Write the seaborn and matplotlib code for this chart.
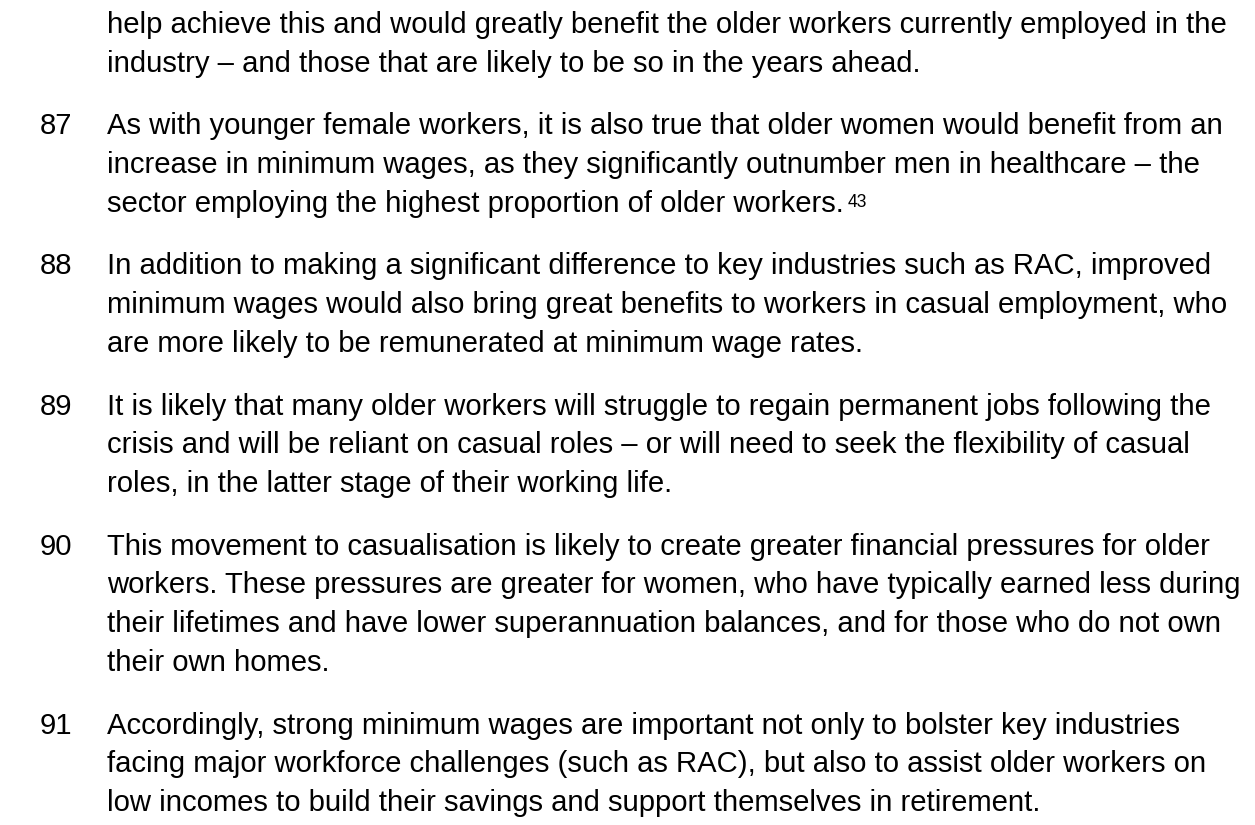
import matplotlib
matplotlib.use("Agg")
import matplotlib.pyplot as plt
import seaborn as sns

sns.set_theme(style="white")
plt.rcParams["font.family"] = ["Liberation Sans", "DejaVu Sans"]

# ---- content ----
para_numbers = ["", "87", "88", "89", "90", "91"]
para_lines = [
    ["help achieve this and would greatly benefit the older workers currently employed in the",
     "industry \u2013 and those that are likely to be so in the years ahead."],
    ["As with younger female workers, it is also true that older women would benefit from an",
     "increase in minimum wages, as they significantly outnumber men in healthcare \u2013 the",
     "sector employing the highest proportion of older workers."],
    ["In addition to making a significant difference to key industries such as RAC, improved",
     "minimum wages would also bring great benefits to workers in casual employment, who",
     "are more likely to be remunerated at minimum wage rates."],
    ["It is likely that many older workers will struggle to regain permanent jobs following the",
     "crisis and will be reliant on casual roles \u2013 or will need to seek the flexibility of casual",
     "roles, in the latter stage of their working life."],
    ["This movement to casualisation is likely to create greater financial pressures for older",
     "workers. These pressures are greater for women, who have typically earned less during",
     "their lifetimes and have lower superannuation balances, and for those who do not own",
     "their own homes."],
    ["Accordingly, strong minimum wages are important not only to bolster key industries",
     "facing major workforce challenges (such as RAC), but also to assist older workers on",
     "low incomes to build their savings and support themselves in retirement."],
]
footnote_mark = "43"
footnote_para, footnote_line = 1, 2

# ---- layout (pixels) ----
W, H = 1255, 825
num_x, text_x = 40, 107
first_baseline = 33
line_step = 38.8
para_step = 62.5
target_width = 1125.0
color = "#000000"

fig = plt.figure(figsize=(W / 100, H / 100), dpi=100)
fig.patch.set_facecolor("white")
ax = fig.add_axes([0, 0, 1, 1])
ax.set_xlim(0, W)
ax.set_ylim(H, 0)
ax.axis("off")

# fit font size to the width of the first full line
probe = ax.text(text_x, first_baseline, para_lines[0][0], fontsize=10)
fig.canvas.draw()
renderer = fig.canvas.get_renderer()
fs = 10 * target_width / probe.get_window_extent(renderer).width
probe.remove()

y = first_baseline
for p, (num, lines) in enumerate(zip(para_numbers, para_lines)):
    if num:
        ax.text(num_x, y, num, fontsize=fs, color=color, va="baseline", ha="left")
    for i, line in enumerate(lines):
        t = ax.text(text_x, y, line, fontsize=fs, color=color, va="baseline", ha="left")
        if p == footnote_para and i == footnote_line:
            fig.canvas.draw()
            bb = t.get_window_extent(renderer)
            ax.text(bb.x1 + 4, y - 5, footnote_mark, fontsize=fs * 0.6,
                    color=color, va="baseline", ha="left")
        if i < len(lines) - 1:
            y += line_step
    y += para_step

fig.savefig("out.png", dpi=100, facecolor="white")
